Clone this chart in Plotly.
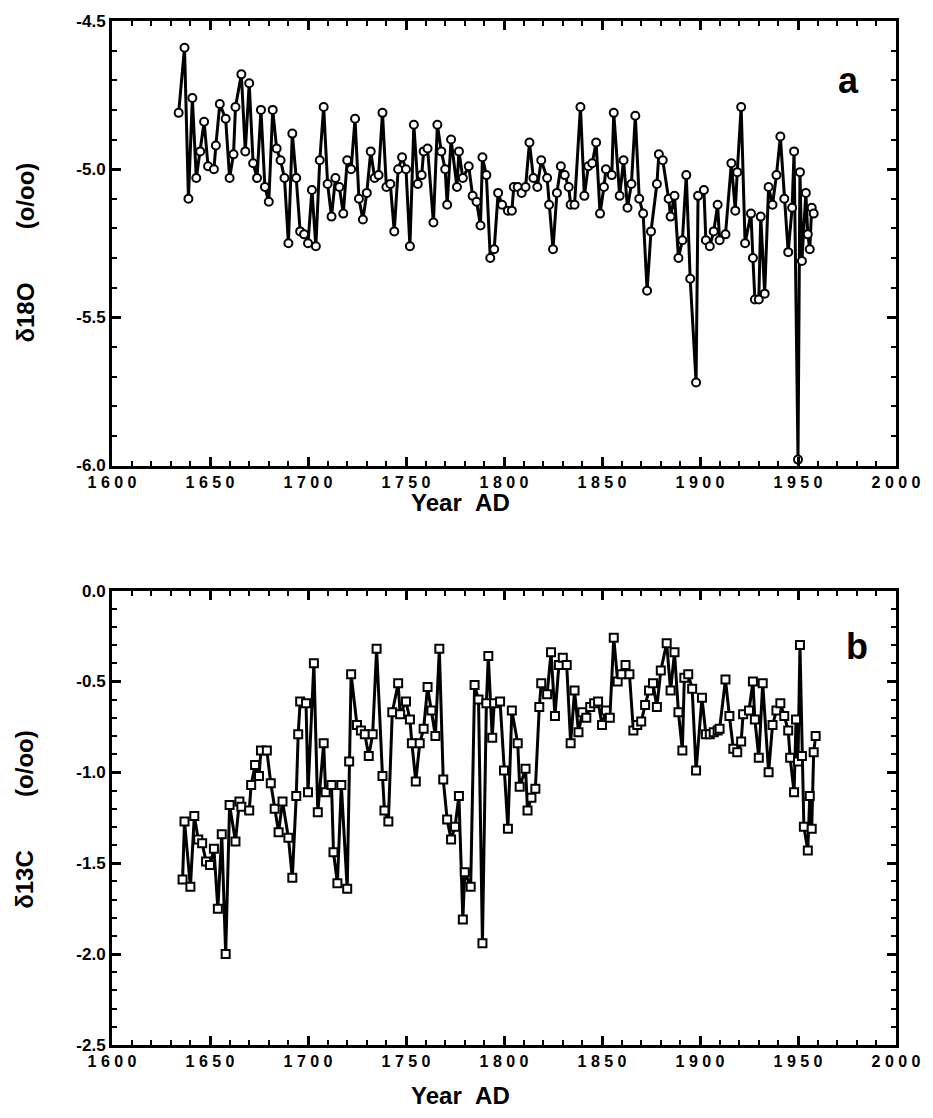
import plotly.graph_objects as go

# ---- data: panel a (delta 18O) ----
years_a = [1634, 1637, 1639, 1641, 1643, 1645, 1647, 1649, 1652, 1653, 1655, 1658, 1660, 1662, 1663,
           1666, 1668, 1670, 1672, 1674, 1676, 1678, 1680, 1682, 1684, 1686, 1688, 1690, 1692, 1694,
           1696, 1698, 1700, 1702, 1704, 1706, 1708, 1710, 1712, 1714, 1716, 1718, 1720, 1722, 1724,
           1726, 1728, 1730, 1732, 1734, 1736, 1738, 1740, 1742, 1744, 1746, 1748, 1750, 1752, 1754,
           1756, 1758, 1759, 1761, 1764, 1766, 1768, 1770, 1771, 1773, 1776, 1777, 1779, 1782, 1784,
           1786, 1788, 1789, 1791, 1793, 1795, 1797, 1799, 1802, 1804, 1805, 1807, 1809, 1811, 1813,
           1815, 1817, 1819, 1822, 1823, 1825, 1827, 1829, 1831, 1833, 1834, 1836, 1839, 1841, 1843,
           1845, 1847, 1849, 1851, 1852, 1855, 1856, 1859, 1861, 1863, 1865, 1867, 1869, 1871, 1873,
           1875, 1878, 1879, 1881, 1884, 1885, 1887, 1889, 1891, 1893, 1895, 1898, 1899, 1902, 1903,
           1905, 1907, 1909, 1910, 1913, 1916, 1918, 1919, 1921, 1923, 1926, 1927, 1928, 1930, 1931,
           1933, 1935, 1937, 1939, 1941, 1943, 1945, 1947, 1948, 1950, 1951, 1952, 1954, 1955, 1956,
           1957, 1958]
d18o = [-4.81, -4.59, -5.10, -4.76, -5.03, -4.94, -4.84, -4.99, -5.00, -4.92, -4.78, -4.83, -5.03, -4.95, -4.79,
        -4.68, -4.94, -4.71, -4.98, -5.03, -4.80, -5.06, -5.11, -4.80, -4.93, -4.97, -5.03, -5.25, -4.88, -5.03,
        -5.21, -5.22, -5.25, -5.07, -5.26, -4.97, -4.79, -5.05, -5.16, -5.03, -5.06, -5.15, -4.97, -5.00, -4.83,
        -5.10, -5.17, -5.08, -4.94, -5.03, -5.02, -4.81, -5.06, -5.05, -5.21, -5.00, -4.96, -5.00, -5.26, -4.85,
        -5.05, -5.02, -4.94, -4.93, -5.18, -4.85, -4.94, -5.00, -5.12, -4.90, -5.06, -4.94, -5.03, -4.99, -5.09,
        -5.11, -5.19, -4.96, -5.02, -5.30, -5.27, -5.08, -5.12, -5.14, -5.14, -5.06, -5.06, -5.08, -5.06, -4.91,
        -5.03, -5.06, -4.97, -5.03, -5.12, -5.27, -5.08, -4.99, -5.02, -5.06, -5.12, -5.12, -4.79, -5.09, -4.99,
        -4.98, -4.91, -5.15, -5.06, -5.00, -5.02, -4.81, -5.09, -4.97, -5.13, -5.05, -4.82, -5.10, -5.15, -5.41,
        -5.21, -5.05, -4.95, -4.97, -5.10, -5.16, -5.09, -5.30, -5.24, -5.02, -5.37, -5.72, -5.09, -5.07, -5.24,
        -5.26, -5.21, -5.12, -5.24, -5.22, -4.98, -5.14, -5.01, -4.79, -5.25, -5.15, -5.30, -5.44, -5.44, -5.16,
        -5.42, -5.06, -5.12, -5.02, -4.89, -5.10, -5.28, -5.13, -4.94, -5.98, -5.01, -5.31, -5.08, -5.22, -5.27,
        -5.13, -5.15]

# ---- data: panel b (delta 13C) ----
years_b = [1636, 1637, 1640, 1642, 1644, 1646, 1648, 1650, 1652, 1654, 1656, 1658, 1660, 1663, 1665,
           1666, 1670, 1671, 1673, 1675, 1676, 1679, 1681, 1683, 1685, 1687, 1690, 1692, 1694, 1695,
           1696, 1699, 1700, 1703, 1705, 1708, 1709, 1712, 1713, 1715, 1717, 1720, 1721, 1722, 1725,
           1727, 1729, 1731, 1733, 1735, 1738, 1739, 1741, 1743, 1746, 1747, 1750, 1752, 1753, 1755,
           1757, 1759, 1761, 1763, 1765, 1767, 1769, 1771, 1773, 1775, 1777, 1779, 1780, 1783, 1785,
           1787, 1789, 1791, 1792, 1794, 1795, 1798, 1800, 1802, 1804, 1807, 1808, 1811, 1812, 1814,
           1816, 1818, 1819, 1822, 1824, 1826, 1828, 1830, 1832, 1834, 1836, 1838, 1840, 1842, 1844,
           1846, 1848, 1850, 1852, 1854, 1856, 1858, 1860, 1862, 1864, 1866, 1868, 1870, 1872, 1874,
           1876, 1878, 1880, 1883, 1885, 1887, 1889, 1891, 1892, 1894, 1896, 1898, 1901, 1903, 1905,
           1907, 1909, 1910, 1913, 1915, 1917, 1919, 1921, 1922, 1925, 1927, 1928, 1930, 1932, 1935,
           1937, 1939, 1941, 1943, 1945, 1946, 1948, 1949, 1950, 1951, 1952, 1953, 1955, 1956, 1957,
           1958, 1959]
d13c = [-1.59, -1.27, -1.63, -1.24, -1.37, -1.39, -1.49, -1.51, -1.42, -1.75, -1.34, -2.00, -1.18, -1.38, -1.16,
        -1.19, -1.21, -1.07, -0.96, -1.02, -0.88, -0.88, -1.06, -1.20, -1.33, -1.16, -1.36, -1.58, -1.13, -0.79,
        -0.61, -0.62, -1.11, -0.40, -1.22, -0.84, -1.11, -1.07, -1.44, -1.61, -1.07, -1.64, -0.94, -0.46, -0.74,
        -0.77, -0.79, -0.91, -0.79, -0.32, -1.02, -1.21, -1.27, -0.67, -0.51, -0.68, -0.61, -0.71, -0.84, -1.05,
        -0.84, -0.76, -0.53, -0.66, -0.80, -0.32, -1.04, -1.26, -1.37, -1.30, -1.13, -1.81, -1.55, -1.63, -0.52,
        -0.60, -1.94, -0.62, -0.36, -0.81, -0.62, -0.61, -0.99, -1.31, -0.66, -0.84, -1.08, -0.98, -1.21, -1.14,
        -1.09, -0.64, -0.51, -0.57, -0.34, -0.69, -0.41, -0.37, -0.41, -0.84, -0.55, -0.78, -0.67, -0.70, -0.64,
        -0.62, -0.61, -0.74, -0.66, -0.70, -0.26, -0.50, -0.46, -0.41, -0.46, -0.77, -0.74, -0.72, -0.63, -0.55,
        -0.51, -0.64, -0.44, -0.29, -0.55, -0.34, -0.67, -0.88, -0.48, -0.46, -0.54, -0.99, -0.59, -0.79, -0.79,
        -0.78, -0.77, -0.76, -0.49, -0.69, -0.87, -0.89, -0.83, -0.68, -0.66, -0.50, -0.71, -0.92, -0.51, -1.00,
        -0.74, -0.66, -0.62, -0.69, -0.77, -0.92, -1.11, -0.71, -0.94, -0.30, -0.91, -1.30, -1.43, -1.13, -1.31,
        -0.89, -0.80]

# ---- tick labels (major) ----
x_major = [1600, 1650, 1700, 1750, 1800, 1850, 1900, 1950, 2000]
ya_major = [-6.0, -5.5, -5.0, -4.5]
yb_major = [-2.5, -2.0, -1.5, -1.0, -0.5, 0.0]
# all tick positions (every 10 years / every 0.1 per mil), labelled only at the majors
x_all = list(range(1600, 2001, 10))
ya_all = [round(-6.0 + 0.1 * i, 1) for i in range(0, 16)]
yb_all = [round(-2.5 + 0.1 * i, 1) for i in range(0, 26)]


def xlabel(v):
    return " ".join(str(v)) if v in x_major else ""


def ylabel(v, majors):
    return ("%.1f" % v) if any(abs(v - m) < 1e-9 for m in majors) else ""


x_text = [xlabel(v) for v in x_all]
ya_text = [ylabel(v, ya_major) for v in ya_all]
yb_text = [ylabel(v, yb_major) for v in yb_all]

FONT = "Liberation Sans, Arial, sans-serif"
NB = "\u00a0"

fig = go.Figure()
fig.add_trace(go.Scatter(
    x=years_a, y=d18o, mode="lines+markers", xaxis="x", yaxis="y",
    line=dict(color="black", width=3),
    marker=dict(symbol="circle", size=8, color="white", line=dict(color="black", width=2)),
    showlegend=False, hoverinfo="skip"))
fig.add_trace(go.Scatter(
    x=years_b, y=d13c, mode="lines+markers", xaxis="x2", yaxis="y2",
    line=dict(color="black", width=3),
    marker=dict(symbol="square", size=8, color="white", line=dict(color="black", width=2)),
    showlegend=False, hoverinfo="skip"))
# empty traces registering the overlay axes that lengthen the major ticks
fig.add_trace(go.Scatter(x=[None], y=[None], xaxis="x3", yaxis="y3", showlegend=False, hoverinfo="skip"))
fig.add_trace(go.Scatter(x=[None], y=[None], xaxis="x4", yaxis="y4", showlegend=False, hoverinfo="skip"))

base = dict(showline=True, linecolor="black", linewidth=3, showgrid=False, zeroline=False,
            ticks="inside", ticklen=5, tickwidth=2, tickcolor="black", mirror="ticks")
major_base = dict(showline=False, showgrid=False, zeroline=False, showticklabels=False,
                  ticks="inside", ticklen=9, tickwidth=2.5, tickcolor="black", mirror="ticks")
xfont = dict(family=FONT, size=16, color="black", weight="bold")
yfont = dict(family=FONT, size=17, color="black", weight="bold")

dom_a = [0.5659, 1.0]
dom_b = [0.0, 0.4438]

fig.update_layout(
    width=933, height=1118,
    margin=dict(l=112, r=36, t=13, b=73),
    paper_bgcolor="white", plot_bgcolor="white",
    xaxis=dict(base, domain=[0, 1], anchor="y", range=[1600, 2000],
               tickvals=x_all, ticktext=x_text, tickfont=xfont),
    yaxis=dict(base, domain=dom_a, anchor="x", range=[-6.0, -4.5],
               tickvals=ya_all, ticktext=ya_text, tickfont=yfont),
    xaxis2=dict(base, domain=[0, 1], anchor="y2", range=[1600, 2000],
                tickvals=x_all, ticktext=x_text, tickfont=xfont),
    yaxis2=dict(base, domain=dom_b, anchor="x2", range=[-2.5, 0.0],
                tickvals=yb_all, ticktext=yb_text, tickfont=yfont),
    xaxis3=dict(major_base, overlaying="x", anchor="y", side="bottom", range=[1600, 2000], tickvals=x_major),
    yaxis3=dict(major_base, overlaying="y", anchor="x", side="left", range=[-6.0, -4.5], tickvals=ya_major),
    xaxis4=dict(major_base, overlaying="x2", anchor="y2", side="bottom", range=[1600, 2000], tickvals=x_major),
    yaxis4=dict(major_base, overlaying="y2", anchor="x2", side="left", range=[-2.5, 0.0], tickvals=yb_major),
)

title_font = dict(family=FONT, size=24, color="black", weight="bold")
annots = [
    dict(text="Year" + NB * 2 + "AD", x=0.4446, y=0.530, xref="paper", yref="paper", showarrow=False,
         font=title_font, xanchor="center", yanchor="middle"),
    dict(text="Year" + NB * 2 + "AD", x=0.4446, y=-0.0494, xref="paper", yref="paper", showarrow=False,
         font=title_font, xanchor="center", yanchor="middle"),
    dict(text="δ18O" + NB * 8 + "(o/oo)", x=-0.1108, y=0.774, xref="paper", yref="paper", showarrow=False,
         font=title_font, textangle=-90, xanchor="center", yanchor="middle"),
    dict(text="δ13C" + NB * 8 + "(o/oo)", x=-0.1108, y=0.22, xref="paper", yref="paper", showarrow=False,
         font=title_font, textangle=-90, xanchor="center", yanchor="middle"),
    dict(text="a", x=0.940, y=0.942, xref="paper", yref="paper", showarrow=False,
         font=dict(family=FONT, size=36, color="black", weight="bold"), xanchor="center", yanchor="middle"),
    dict(text="b", x=0.950, y=0.3895, xref="paper", yref="paper", showarrow=False,
         font=dict(family=FONT, size=36, color="black", weight="bold"), xanchor="center", yanchor="middle"),
]
fig.update_layout(annotations=annots)

fig.write_html("out.html", post_script="document.body.style.margin='0px';",
               config={"displayModeBar": False})
